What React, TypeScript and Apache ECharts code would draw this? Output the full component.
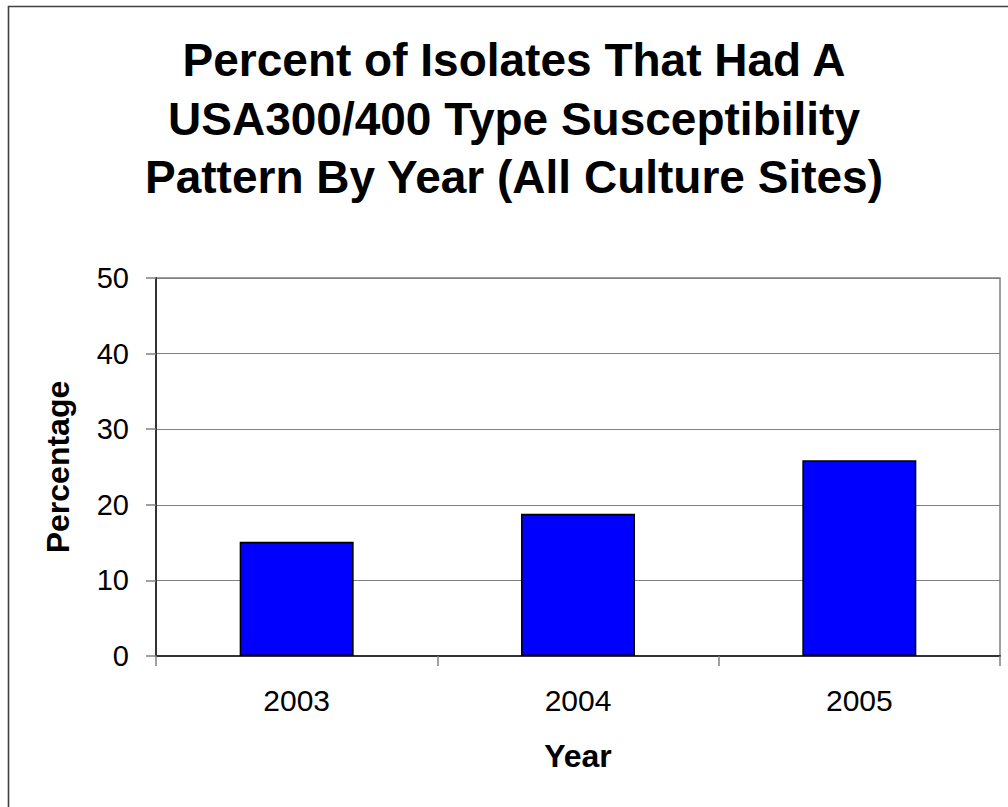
import React, { useEffect, useRef } from "react";
import * as echarts from "echarts";

// Isolates with a USA300/400-type susceptibility pattern, by year
const years = ["2003", "2004", "2005"];
const percentages = [15.1, 18.8, 25.9];
const yTicks = { min: 0, max: 50, interval: 10 };

const titleLines = [
  "Percent of Isolates That Had A",
  "USA300/400 Type Susceptibility",
  "Pattern By Year (All Culture Sites)",
];
const xAxisTitle = "Year";
const yAxisTitle = "Percentage";

const FONT = "'Liberation Sans', Arial, Helvetica, sans-serif";

export default function App() {
  const ref = useRef<HTMLDivElement>(null);

  useEffect(() => {
    if (!ref.current) return;
    const chart = echarts.init(ref.current, null, { renderer: "svg" });

    chart.setOption({
      animation: false,
      backgroundColor: "#ffffff",
      textStyle: { fontFamily: FONT },
      grid: {
        left: 156,
        right: 8,
        top: 278,
        bottom: 151,
        show: true,
        borderColor: "#808080",
        borderWidth: 1.5,
        backgroundColor: "transparent",
      },
      xAxis: {
        type: "category",
        data: years,
        boundaryGap: true,
        axisLine: { show: true, lineStyle: { color: "#333333", width: 2 } },
        axisTick: {
          show: true,
          alignWithLabel: false,
          length: 10,
          lineStyle: { color: "#808080", width: 1.5 },
        },
        axisLabel: {
          color: "#000000",
          fontFamily: FONT,
          fontSize: 30,
          margin: 29,
        },
        splitLine: { show: false },
      },
      yAxis: {
        type: "value",
        min: yTicks.min,
        max: yTicks.max,
        interval: yTicks.interval,
        axisLine: { show: true, lineStyle: { color: "#333333", width: 2 } },
        axisTick: {
          show: true,
          length: 10,
          lineStyle: { color: "#808080", width: 1.5 },
        },
        axisLabel: {
          color: "#000000",
          fontFamily: FONT,
          fontSize: 29,
          margin: 27,
        },
        splitLine: { show: true, lineStyle: { color: "#808080", width: 1.2 } },
      },
      series: [
        {
          type: "bar",
          data: percentages,
          barWidth: 114,
          itemStyle: {
            color: "#0000ff",
            borderColor: "#000000",
            borderWidth: 1.6,
          },
        },
      ],
      graphic: [
        {
          type: "rect",
          silent: true,
          shape: { x: 8.5, y: 6.5, width: 1100, height: 900 },
          style: { fill: "none", stroke: "#404040", lineWidth: 1.6 },
        },
        {
          type: "text",
          x: 514,
          y: 118.5,
          style: {
            text: titleLines.join("\n"),
            fontFamily: FONT,
            fontSize: 46,
            fontWeight: "bold",
            lineHeight: 58.5,
            fill: "#000000",
            textAlign: "center",
            textVerticalAlign: "middle",
          },
        },
        {
          type: "text",
          x: 578,
          y: 756,
          style: {
            text: xAxisTitle,
            fontFamily: FONT,
            fontSize: 32,
            fontWeight: "bold",
            fill: "#000000",
            textAlign: "center",
            textVerticalAlign: "middle",
          },
        },
        {
          type: "text",
          x: 57.5,
          y: 467,
          rotation: Math.PI / 2,
          style: {
            text: yAxisTitle,
            fontFamily: FONT,
            fontSize: 32,
            fontWeight: "bold",
            fill: "#000000",
            textAlign: "center",
            textVerticalAlign: "middle",
          },
        },
      ],
    });

    return () => chart.dispose();
  }, []);

  return (
    <div
      ref={ref}
      style={{ position: "absolute", left: 0, top: 0, width: 1008, height: 807 }}
    />
  );
}
